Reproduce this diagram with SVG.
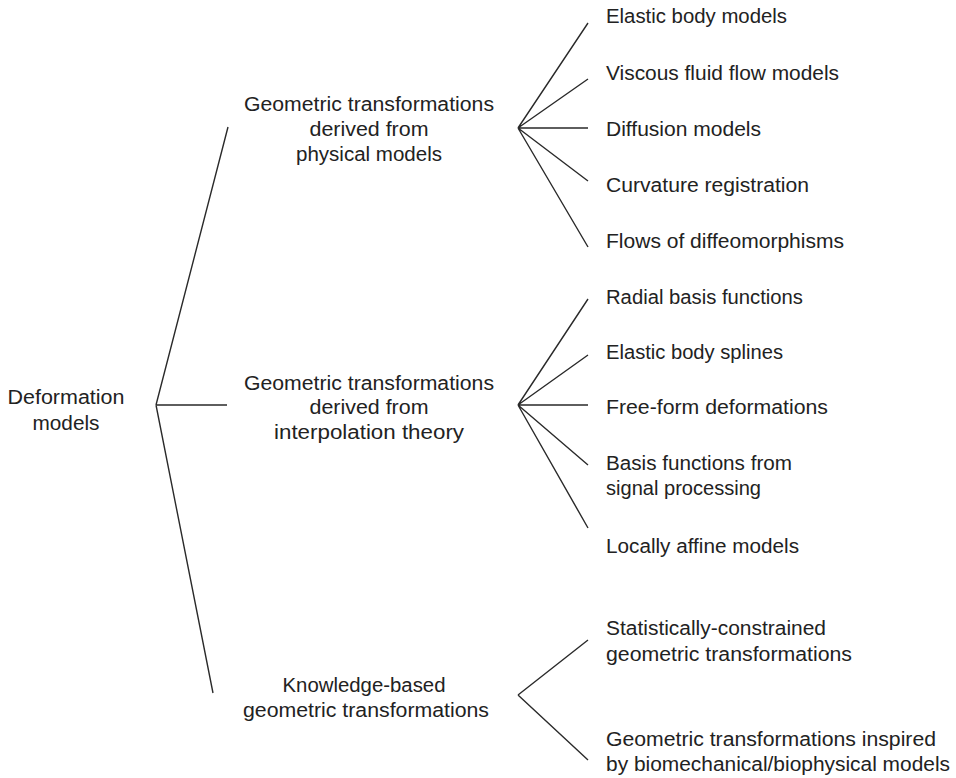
<svg xmlns="http://www.w3.org/2000/svg" width="956" height="778" viewBox="0 0 956 778">
<style>
text{font-family:"Liberation Sans",Arial,sans-serif;font-size:20px;fill:#222}
.c{text-anchor:middle}
.l{stroke:#2a2a2a;stroke-width:1.4;fill:none}
</style>
<rect width="956" height="778" fill="#fff"/>
<g id="connectors">
<path class="l" d="M156,405L228,127M156,405H227M156,405L213,693"/>
<path class="l" d="M518,128L588,23M518,128L588,79M518,128H588M518,128L588,181M518,128L588,247"/>
<path class="l" d="M518,405L588,299M518,405L588,355M518,405H588M518,405L588,465M518,405L588,528"/>
<path class="l" d="M518,695L588,640M518,695L588,760"/>
</g>
<g id="root"><text x="66" y="404" class="c" textLength="117" lengthAdjust="spacingAndGlyphs">Deformation</text><text x="66" y="430" class="c" textLength="67" lengthAdjust="spacingAndGlyphs">models</text></g>
<g id="physical"><text x="369" y="111" class="c" textLength="250" lengthAdjust="spacingAndGlyphs">Geometric transformations</text><text x="369" y="136" class="c" textLength="119" lengthAdjust="spacingAndGlyphs">derived from</text><text x="369" y="161" class="c" textLength="146" lengthAdjust="spacingAndGlyphs">physical models</text></g>
<g id="interpolation"><text x="369" y="390" class="c" textLength="250" lengthAdjust="spacingAndGlyphs">Geometric transformations</text><text x="369" y="414" class="c" textLength="119" lengthAdjust="spacingAndGlyphs">derived from</text><text x="369" y="439" class="c" textLength="190" lengthAdjust="spacingAndGlyphs">interpolation theory</text></g>
<g id="knowledge"><text x="364" y="692" class="c" textLength="163" lengthAdjust="spacingAndGlyphs">Knowledge-based</text><text x="366" y="717" class="c" textLength="246" lengthAdjust="spacingAndGlyphs">geometric transformations</text></g>
<g id="elastic"><text x="606" y="23" textLength="181" lengthAdjust="spacingAndGlyphs">Elastic body models</text></g>
<g id="viscous"><text x="606" y="80" textLength="233" lengthAdjust="spacingAndGlyphs">Viscous fluid flow models</text></g>
<g id="diffusion"><text x="606" y="136" textLength="155" lengthAdjust="spacingAndGlyphs">Diffusion models</text></g>
<g id="curvature"><text x="606" y="192" textLength="203" lengthAdjust="spacingAndGlyphs">Curvature registration</text></g>
<g id="flows"><text x="606" y="248" textLength="238" lengthAdjust="spacingAndGlyphs">Flows of diffeomorphisms</text></g>
<g id="radial"><text x="606" y="304" textLength="197" lengthAdjust="spacingAndGlyphs">Radial basis functions</text></g>
<g id="splines"><text x="606" y="359" textLength="177" lengthAdjust="spacingAndGlyphs">Elastic body splines</text></g>
<g id="ffd"><text x="606" y="414" textLength="222" lengthAdjust="spacingAndGlyphs">Free-form deformations</text></g>
<g id="signal"><text x="606" y="470" textLength="186" lengthAdjust="spacingAndGlyphs">Basis functions from</text><text x="606" y="495" textLength="155" lengthAdjust="spacingAndGlyphs">signal processing</text></g>
<g id="affine"><text x="606" y="553" textLength="193" lengthAdjust="spacingAndGlyphs">Locally affine models</text></g>
<g id="statistical"><text x="606" y="635" textLength="220" lengthAdjust="spacingAndGlyphs">Statistically-constrained</text><text x="606" y="661" textLength="246" lengthAdjust="spacingAndGlyphs">geometric transformations</text></g>
<g id="biomech"><text x="606" y="746" textLength="330" lengthAdjust="spacingAndGlyphs">Geometric transformations inspired</text><text x="606" y="771" textLength="344" lengthAdjust="spacingAndGlyphs">by biomechanical/biophysical models</text></g>
</svg>
